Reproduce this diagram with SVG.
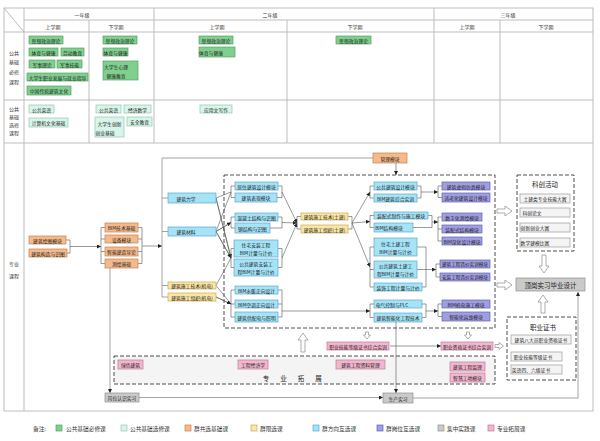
<svg xmlns="http://www.w3.org/2000/svg" width="600" height="441" viewBox="0 0 600 441">
<defs>
<style>
.tl{stroke:#bdbdbd;stroke-width:1;fill:none}
.g{fill:#80cf8e;stroke:#55a266;stroke-width:.7}
.lg{fill:#d8f5ea;stroke:#96c6b0;stroke-width:.7}
.o{fill:#f5b98a;stroke:#bf8455;stroke-width:.7}
.y{fill:#fbe6a3;stroke:#c4aa60;stroke-width:.7}
.b{fill:#a6e3f6;stroke:#5aa9cb;stroke-width:.7}
.p{fill:#a09ee2;stroke:#6261ad;stroke-width:.7}
.gr{fill:#cacaca;stroke:#8f8f8f;stroke-width:.7}
.pk{fill:#f3b6cf;stroke:#bf7996;stroke-width:.7}
.wb{fill:#f4f4f4;stroke:#9a9a9a;stroke-width:.7}
.dash{fill:none;stroke:#3a3a3a;stroke-width:.9;stroke-dasharray:4 2}
.t{font-family:"Noto Sans CJK SC","Noto Sans",sans-serif;font-size:4.8px;fill:#222;text-anchor:middle;dominant-baseline:central}
.h{font-size:5px;fill:#333}
.big{font-size:6.5px}
.lgd{font-family:"Noto Sans CJK SC","Noto Sans",sans-serif;font-size:5.7px;fill:#333;dominant-baseline:central}
.c{fill:none;stroke:#555;stroke-width:.6}
.cl{fill:none;stroke:#9a9a9a;stroke-width:.9}
.ha{fill:#fff;stroke:#8a8a8a;stroke-width:.7}
</style>
<marker id="ah" viewBox="0 0 6 6" refX="6" refY="3" markerWidth="4" markerHeight="4" orient="auto" markerUnits="userSpaceOnUse"><path d="M0,0 L6,3 L0,6 z" fill="#222"/></marker>
</defs>
<rect width="600" height="441" fill="#fff"/>

<g id="table">
<rect x="4" y="8" width="589" height="403" class="tl"/>
<path class="tl" d="M24,20 H593 M4,32 H593 M4,100 H593 M4,143 H593 M24,8 V411 M154,8 V143 M434,8 V143 M89,20 V143 M287,20 V143 M500,20 V143 M4,8 L24,32"/>
<g class="t h">
<text x="82" y="14">一年级</text><text x="270" y="14">二年级</text><text x="508" y="14">三年级</text>
<text x="53" y="26">上学期</text><text x="116" y="26">下学期</text><text x="217" y="26">上学期</text><text x="355" y="26">下学期</text><text x="467" y="26">上学期</text><text x="546" y="26">下学期</text>
<text x="14" y="52">公共</text><text x="14" y="61.5">基础</text><text x="14" y="71">必修</text><text x="14" y="81">课程</text>
<text x="14" y="108">公共</text><text x="14" y="116">基础</text><text x="14" y="124">选修</text><text x="14" y="132">课程</text>
<text x="14" y="263">专业</text><text x="14" y="275">课程</text>
</g>
</g>

<g id="public-required">
<g id="pr1"><rect class="g" x="29" y="36" width="34" height="8"/><text class="t" x="46" y="40">思想政治理论</text></g>
<g id="pr2"><rect class="g" x="29" y="48" width="29" height="8"/><text class="t" x="43.5" y="52">体育与健康</text></g>
<g id="pr3"><rect class="g" x="61" y="48" width="23" height="8"/><text class="t" x="72.5" y="52">劳动教育</text></g>
<g id="pr4"><rect class="g" x="29" y="60" width="26" height="8"/><text class="t" x="42" y="64">军事理论</text></g>
<g id="pr5"><rect class="g" x="57" y="60" width="25" height="8"/><text class="t" x="69.5" y="64">军事技能</text></g>
<g id="pr6"><rect class="g" x="27" y="73" width="61" height="8"/><text class="t" x="57.5" y="77">大学生职业发展与就业指导</text></g>
<g id="pr7"><rect class="g" x="27" y="86" width="44" height="9"/><text class="t" x="49" y="90.5">中国传统建筑文化</text></g>
<g id="pr8"><rect class="g" x="103" y="36" width="34" height="8"/><text class="t" x="120" y="40">思想政治理论</text></g>
<g id="pr9"><rect class="g" x="103" y="48" width="25" height="8"/><text class="t" x="115.5" y="52">体育与健康</text></g>
<g id="pr10"><rect class="g" x="103" y="61" width="35" height="19"/><text class="t" x="116" y="66">大学生心理</text><text class="t" x="116" y="75">健康教育</text></g>
<g id="pr11"><rect class="g" x="199" y="36" width="34" height="8"/><text class="t" x="216" y="40">思想政治理论</text></g>
<g id="pr12"><rect class="g" x="199" y="47" width="36" height="10"/><text class="t" x="211" y="52">体育与健康</text></g>
<g id="pr13"><rect class="g" x="336" y="36" width="35" height="8"/><text class="t" x="353.5" y="40">思想政治理论</text></g>
</g>

<g id="public-elective">
<g id="pe1"><rect class="lg" x="29" y="105" width="25" height="8"/><text class="t" x="41.5" y="109">公共英语</text></g>
<g id="pe2"><rect class="lg" x="29" y="118" width="39" height="9"/><text class="t" x="48.5" y="122.5">计算机文化基础</text></g>
<g id="pe3"><rect class="lg" x="96" y="105" width="25" height="8"/><text class="t" x="108.5" y="109">公共英语</text></g>
<g id="pe4"><rect class="lg" x="124" y="105" width="27" height="8"/><text class="t" x="137.5" y="109">经济数学</text></g>
<g id="pe5"><rect class="lg" x="95" y="117" width="29" height="20"/><text class="t" x="109.5" y="123">大学生创新</text><text class="t" x="105" y="132">创业基础</text></g>
<g id="pe6"><rect class="lg" x="127" y="117" width="25" height="9"/><text class="t" x="139.5" y="121.5">安全教育</text></g>
<g id="pe7"><rect class="lg" x="200" y="105" width="32" height="8"/><text class="t" x="216" y="109">应用文写作</text></g>
</g>

<g id="containers">
<rect class="dash" x="224" y="175" width="271" height="153"/>
<rect class="dash" x="114" y="356" width="381" height="28" style="fill:#f4f4f4"/>
<rect class="dash" x="517" y="175" width="57" height="76" style="fill:#fff"/>
<rect class="dash" x="507" y="317" width="69" height="63" style="fill:#fff"/>
<text class="t big" x="545" y="184">科创活动</text>
<text class="t big" x="543" y="327">职业证书</text>
<text class="t big" x="262.7" y="378" style="text-anchor:start;letter-spacing:11px">专业拓展</text>
</g>

<g id="connectors">
<path class="c" d="M66,240 H70 V253 H67"/>
<path class="c" d="M70,246.5 H101" marker-end="url(#ah)"/>
<path class="c" d="M105,227.5 H101 V263.5 H105 M101,239 H105 M101,251.5 H105 M138,227.5 H142 V263.5 H138 M142,239 H138 M142,251.5 H138"/>
<path class="c" d="M142,246 H162" marker-end="url(#ah)"/>
<path class="cl" d="M162,297 V158 H373 M162,198 H168 M162,231.5 H168 M162,285.5 H168 M162,297 H168"/>
<path class="c" d="M396,163 V175" marker-end="url(#ah)"/>
<path class="c" d="M216,198 L231,192 M216,198 L231,258 M216,231.5 L231,192 M216,231.5 L231,222.5 M216,231.5 L231,258 M216,285.5 L231,258 M216,285.5 L231,304 M216,297 L231,304" marker-end="url(#ah)"/>
<path class="c" d="M216,198 L231,258" marker-end="url(#ah)"/>
<path class="c" d="M216,231.5 L231,222.5" marker-end="url(#ah)"/>
<path class="c" d="M216,231.5 L231,258" marker-end="url(#ah)"/>
<path class="c" d="M216,297 L231,304" marker-end="url(#ah)"/>
<path class="c" d="M235,186 H231 V197.5 H235 M278,186 H282 V197.5 H277"/>
<path class="c" d="M235,217 H231 V228 H235 M278,217 H282 V228 H270"/>
<path class="c" d="M234,248.5 H231 V267.5 H234 M278,248.5 H282 V267.5 H278"/>
<path class="c" d="M235,290 H231 V317 H235 M231,304 H235 M278,290 H282 V317 H278 M282,304 H278"/>
<path class="c" d="M282,192 L297,223" marker-end="url(#ah)"/>
<path class="c" d="M282,222.5 L297,223" marker-end="url(#ah)"/>
<path class="c" d="M282,258 L297,223" marker-end="url(#ah)"/>
<path class="c" d="M282,311 H370" marker-end="url(#ah)"/>
<path class="c" d="M301,216.5 H297 V229 H301 M348,216.5 H352 V229 H348"/>
<path class="c" d="M352,223 L370,192" marker-end="url(#ah)"/>
<path class="c" d="M352,223 L370,221.5" marker-end="url(#ah)"/>
<path class="c" d="M352,223 L370,267" marker-end="url(#ah)"/>
<path class="c" d="M374,186 H370 V198 H374 M417,186 H421 V198 H417"/>
<path class="c" d="M374,215.5 H370 V227.5 H374 M428,215.5 H432 V227.5 H413"/>
<path class="c" d="M374,247 H370 V287 H374 M370,269.5 H374 M417,247 H426 V287 H422 M426,269.5 H417"/>
<path class="c" d="M374,304 H370 V317.5 H374 M422,304 H426 V317.5 H422"/>
<path class="c" d="M421,192 H438" marker-end="url(#ah)"/>
<path class="c" d="M432,222 H438" marker-end="url(#ah)"/>
<path class="c" d="M426,269.5 H436" marker-end="url(#ah)"/>
<path class="c" d="M426,311 H438" marker-end="url(#ah)"/>
<path class="c" d="M442,186 H438 V197.5 H442 M442,217 H438 V241 H442 M438,229 H442 M440,264 H436 V277 H440 M442,304 H438 V316.5 H442"/>
<path class="cl" d="M110,268 V393" marker-end="url(#ah)"/>
<path class="cl" d="M139,397.5 H383" marker-end="url(#ah)"/>
<path class="c" d="M396,322 V393" marker-end="url(#ah)"/>
<path class="cl" d="M413,398 H578 V292" marker-end="url(#ah)"/>
<path class="c" d="M390,346 H441" marker-end="url(#ah)"/>
<path class="ha" d="M497,209 H505 V206 L512,211 L505,216 V213 H497 Z"/>
<path class="ha" d="M497,283 H505 V280 L512,285 L505,290 V287 H497 Z"/>
<path class="ha" d="M542,255 H546 V266 H549 L544,273 L539,266 H542 Z"/>
<path class="ha" d="M543,295 L548,302 H545 V313 H541 V302 H538 Z"/>
<path class="ha" d="M303,333 L308,340 H305 V352 H301 V340 H298 Z"/>
<path class="ha" d="M365.5,332 H368.5 V335 H370.5 L367,339 L363.5,335 H365.5 Z"/>
<path class="ha" d="M466.5,332 H469.5 V335 H471.5 L468,339 L464.5,335 H466.5 Z"/>
<path class="ha" d="M495,344.5 H499 V342.5 L503.5,346 L499,349.5 V347.5 H495 Z"/>
</g>

<g id="pro-base">
<g id="n-huitu"><rect class="o" x="29" y="236" width="37" height="8"/><text class="t" x="47.5" y="240">建筑绘图模块</text></g>
<g id="n-gouzao"><rect class="o" x="29" y="249" width="38" height="8"/><text class="t" x="48" y="253">建筑构造与识图</text></g>
<g id="n-bimjc"><rect class="o" x="105" y="223" width="33" height="9"/><text class="t" x="121.5" y="227.5">BIM技术基础</text></g>
<g id="n-shebei"><rect class="o" x="105" y="235" width="33" height="8"/><text class="t" x="121.5" y="239">设备模块</text></g>
<g id="n-zhineng"><rect class="o" x="105" y="247" width="33" height="9"/><text class="t" x="121.5" y="251.5">智能建造导论</text></g>
<g id="n-cehui"><rect class="o" x="105" y="259" width="33" height="9"/><text class="t" x="121.5" y="263.5">测绘基础</text></g>
<g id="n-guanli"><rect class="o" x="373" y="153" width="34" height="10"/><text class="t" x="390" y="158">管理模块</text></g>
</g>

<g id="pro-direction">
<g id="n-lixue"><rect class="b" x="168" y="193" width="48" height="10"/><text class="t" x="186" y="198">建筑力学</text></g>
<g id="n-cailiao"><rect class="b" x="168" y="227" width="48" height="9"/><text class="t" x="186" y="231.5">建筑材料</text></g>
<g id="n-jsjd"><rect class="y" x="168" y="282" width="48" height="7"/><text class="t" x="192" y="285.5">建筑施工技术(机电)</text></g>
<g id="n-zzjd"><rect class="y" x="168" y="293" width="48" height="8"/><text class="t" x="192" y="297">建筑施工组织(机电)</text></g>
<g id="n-jsft"><rect class="y" x="301" y="213" width="47" height="7"/><text class="t" x="324.5" y="216.5">建筑施工技术(土建)</text></g>
<g id="n-zzft"><rect class="y" x="301" y="225" width="47" height="8"/><text class="t" x="324.5" y="229">建筑施工组织(土建)</text></g>
<g id="b1"><rect class="b" x="235" y="182" width="43" height="8"/><text class="t" x="256.5" y="186">居住建筑设计模块</text></g>
<g id="b2"><rect class="b" x="235" y="193" width="42" height="9"/><text class="t" x="256" y="197.5">建筑表现模块</text></g>
<g id="b3"><rect class="b" x="235" y="213" width="43" height="8"/><text class="t" x="256.5" y="217">混凝土结构与识图</text></g>
<g id="b4"><rect class="b" x="235" y="223" width="35" height="10"/><text class="t" x="252.5" y="228">钢结构与识图</text></g>
<g id="b5"><rect class="b" x="234" y="240" width="44" height="17"/><text class="t" x="256" y="244.5">住宅安装工程</text><text class="t" x="256" y="252.5">BIM计量与计价</text></g>
<g id="b6"><rect class="b" x="234" y="259" width="44" height="17"/><text class="t" x="256" y="263.5">公共建筑安装工</text><text class="t" x="256" y="271.5">程BIM计量与计价</text></g>
<g id="b7"><rect class="b" x="235" y="286" width="43" height="8"/><text class="t" x="256.5" y="290">BIM水暖正向设计</text></g>
<g id="b8"><rect class="b" x="235" y="300" width="43" height="8"/><text class="t" x="256.5" y="304">BIM空调正向设计</text></g>
<g id="b9"><rect class="b" x="235" y="312" width="43" height="10"/><text class="t" x="256.5" y="317">建筑供配电与照明</text></g>
<g id="c1"><rect class="b" x="374" y="182" width="43" height="8"/><text class="t" x="395.5" y="186">公共建筑设计模块</text></g>
<g id="c2"><rect class="b" x="374" y="194" width="43" height="8"/><text class="t" x="395.5" y="198">BIM建筑综合实训</text></g>
<g id="c3"><rect class="b" x="374" y="212" width="54" height="7"/><text class="t" x="401" y="215.5">装配式制作与施工模块</text></g>
<g id="c4"><rect class="b" x="374" y="223" width="39" height="9"/><text class="t" x="389" y="227.5">BIM结构模块</text></g>
<g id="c5"><rect class="b" x="374" y="238" width="43" height="18"/><text class="t" x="395.5" y="243">住宅土建工程</text><text class="t" x="395.5" y="251">BIM计量与计价</text></g>
<g id="c6"><rect class="b" x="374" y="261" width="43" height="17"/><text class="t" x="395.5" y="265.5">公共建筑土建工</text><text class="t" x="395.5" y="273.5">程BIM计量与计价</text></g>
<g id="c7"><rect class="b" x="374" y="283" width="48" height="8"/><text class="t" x="398" y="287">装饰工程计量与计价</text></g>
<g id="c8"><rect class="b" x="374" y="300" width="48" height="8"/><text class="t" x="392" y="304">电气控制与PLC</text></g>
<g id="c9"><rect class="b" x="374" y="313" width="48" height="9"/><text class="t" x="398" y="317.5">建筑智能化工程技术</text></g>
</g>

<g id="pro-post">
<g id="d1"><rect class="p" x="442" y="182" width="48" height="8"/><text class="t" x="466" y="186">建筑虚拟仿真模块</text></g>
<g id="d2"><rect class="p" x="442" y="193" width="48" height="9"/><text class="t" x="466" y="197.5">适老化建筑设计模块</text></g>
<g id="d3"><rect class="p" x="442" y="213" width="40" height="8"/><text class="t" x="462" y="217">数字化测绘模块</text></g>
<g id="d4"><rect class="p" x="442" y="225" width="40" height="8"/><text class="t" x="462" y="229">装配式结构模块</text></g>
<g id="d5"><rect class="p" x="442" y="237" width="40" height="8"/><text class="t" x="462" y="241">BIM深化设计模块</text></g>
<g id="d6"><rect class="p" x="440" y="260" width="50" height="8"/><text class="t" x="465" y="264" style="font-size:4.6px">建筑工程造价实训模块</text></g>
<g id="d7"><rect class="p" x="440" y="273" width="50" height="8"/><text class="t" x="465" y="277" style="font-size:4.6px">安装工程造价实训模块</text></g>
<g id="d8"><rect class="p" x="442" y="300" width="48" height="8"/><text class="t" x="466" y="304">BIM机电施工模块</text></g>
<g id="d9"><rect class="p" x="442" y="312" width="48" height="9"/><text class="t" x="466" y="316.5">智能化运维模块</text></g>
</g>

<g id="innovation">
<g id="k1"><rect class="wb" x="520" y="194" width="50" height="9"/><text class="t" x="545" y="198.5">土建类专业技能大赛</text></g>
<g id="k2"><rect class="wb" x="520" y="208" width="50" height="9"/><text class="t" x="532" y="212.5">科创论文</text></g>
<g id="k3"><rect class="wb" x="520" y="223" width="50" height="9"/><text class="t" x="535" y="227.5">创新创业大赛</text></g>
<g id="k4"><rect class="wb" x="520" y="238" width="50" height="9"/><text class="t" x="535" y="242.5">数学建模比赛</text></g>
</g>

<g id="certs">
<g id="z1"><rect class="wb" x="511" y="335" width="60" height="9"/><text class="t" x="541" y="339.5">建筑八大员职业资格证书</text></g>
<g id="z2"><rect class="wb" x="511" y="352" width="51" height="9"/><text class="t" x="533" y="356.5">职业技能等级证书</text></g>
<g id="z3"><rect class="wb" x="511" y="365" width="51" height="9"/><text class="t" x="531" y="369.5">英语四、六级证书</text></g>
</g>

<g id="practice">
<g id="n-gangwei"><rect class="gr" x="105" y="393" width="34" height="9"/><text class="t" x="122" y="397.5">岗位认识实习</text></g>
<g id="n-shengchan"><rect class="gr" x="383" y="393" width="30" height="10"/><text class="t" x="398" y="398">生产实习</text></g>
<g id="n-dinggang"><rect class="gr" x="516" y="278" width="69" height="13"/><text class="t big" x="550.5" y="284.5">顶岗实习毕业设计</text></g>
</g>

<g id="expansion">
<g id="x1"><rect class="pk" x="118" y="360" width="25" height="9"/><text class="t" x="130.5" y="364.5">绿色建筑</text></g>
<g id="x2"><rect class="pk" x="238" y="360" width="30" height="9"/><text class="t" x="253" y="364.5">工程经济学</text></g>
<g id="x3"><rect class="pk" x="336" y="360" width="49" height="9"/><text class="t" x="360.5" y="364.5">建筑工程资料管理</text></g>
<g id="x4"><rect class="pk" x="450" y="362" width="35" height="9"/><text class="t" x="467.5" y="366.5">建筑工程监理</text></g>
<g id="x5"><rect class="pk" x="450" y="373" width="35" height="9"/><text class="t" x="467.5" y="377.5">智慧工地模块</text></g>
<g id="x6"><rect class="pk" x="327" y="342" width="62" height="8"/><text class="t" x="358" y="346">职业技能等级证书综合实训</text></g>
<g id="x7"><rect class="pk" x="441" y="342" width="52" height="8"/><text class="t" x="467" y="346">职业资格证书综合实训</text></g>
</g>

<g id="legend">
<text class="lgd" x="33" y="428">备注:</text>
<rect class="g" x="56" y="425" width="6" height="6"/><text class="lgd" x="66" y="428">公共基础必修课</text>
<rect class="lg" x="121" y="425" width="6" height="6"/><text class="lgd" x="130" y="428">公共基础选修课</text>
<rect class="o" x="185" y="425" width="6" height="6"/><text class="lgd" x="194" y="428">群共选基础课</text>
<rect class="y" x="251" y="425" width="6" height="6"/><text class="lgd" x="260" y="428">群限选课</text>
<rect class="b" x="313" y="425" width="6" height="6"/><text class="lgd" x="322" y="428">群方向互选课</text>
<rect class="p" x="377" y="425" width="6" height="6"/><text class="lgd" x="386" y="428">群岗位互选课</text>
<rect class="gr" x="438" y="425" width="6" height="6"/><text class="lgd" x="447" y="428">集中实践课</text>
<rect class="pk" x="488" y="425" width="6" height="6"/><text class="lgd" x="497" y="428">专业拓展课</text>
</g>
</svg>
